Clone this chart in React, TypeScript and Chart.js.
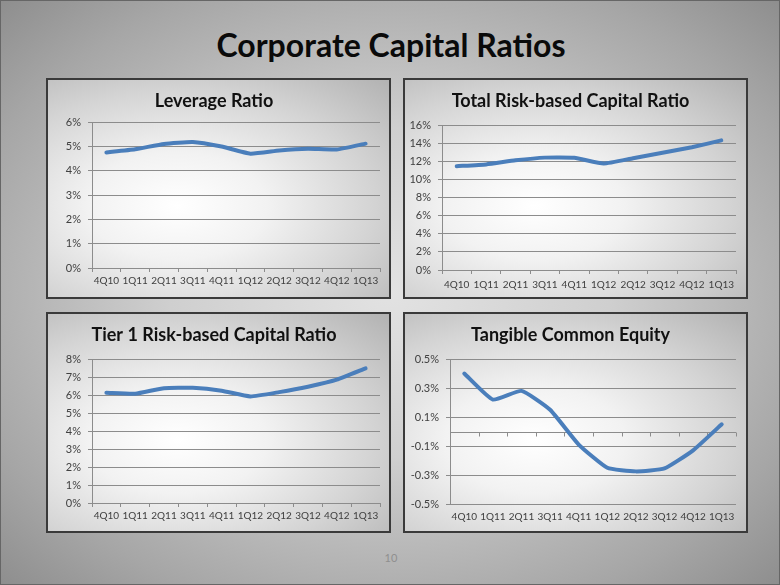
import React, { useEffect, useRef } from 'react';
import { Chart, registerables } from 'chart.js';

Chart.register(...registerables);

// ---------- data ----------
const categories = ['4Q10', '1Q11', '2Q11', '3Q11', '4Q11', '1Q12', '2Q12', '3Q12', '4Q12', '1Q13'];

const leverageValues = [4.75, 4.88, 5.1, 5.18, 4.99, 4.7, 4.83, 4.9, 4.87, 5.11];
const totalRiskValues = [11.46, 11.65, 12.1, 12.4, 12.38, 11.75, 12.34, 12.93, 13.55, 14.3];
const tier1Values = [6.12, 6.07, 6.38, 6.4, 6.24, 5.92, 6.16, 6.46, 6.85, 7.48];
const tangibleValues = [0.4, 0.22, 0.28, 0.15, -0.09, -0.25, -0.275, -0.255, -0.13, 0.05];

const leverageAxis = [0, 6, 1];
const totalRiskAxis = [0, 16, 2];
const tier1Axis = [0, 8, 1];
const tangibleAxis = [-0.5, 0.5, 0.2];

const titles = ['Leverage Ratio', 'Total Risk-based Capital Ratio', 'Tier 1 Risk-based Capital Ratio', 'Tangible Common Equity'];

const FONT = 'Lato, "Open Sans", sans-serif';
const LINE_COLOR = '#4a7ebb';
const GRID_COLOR = '#8c8c8c';

const zeroAxisPlugin = {
  id: 'zeroAxis',
  beforeDatasetsDraw(chart: any, _args: any, opts: any) {
    if (!opts || !opts.enabled) return;
    const { ctx, chartArea, scales } = chart;
    const y = Math.round(scales.y.getPixelForValue(0)) + 0.5;
    ctx.save();
    ctx.strokeStyle = GRID_COLOR;
    ctx.lineWidth = 1;
    ctx.beginPath();
    ctx.moveTo(chartArea.left, y);
    ctx.lineTo(chartArea.right, y);
    const n = categories.length;
    const w = (chartArea.right - chartArea.left) / n;
    for (let i = 0; i <= n; i++) {
      const x = Math.round(chartArea.left + i * w) + 0.5;
      ctx.moveTo(x, y);
      ctx.lineTo(x, y + 4);
    }
    ctx.stroke();
    ctx.restore();
  },
};

type PanelProps = {
  title: string;
  values: number[];
  axis: number[];
  decimals: number;
  yWidth: number;
  rightPad: number;
  plotTop: number;
  xHeight: number;
  zeroLine?: boolean;
  labelPad: number;
};

function Panel(props: PanelProps) {
  const ref = useRef<HTMLCanvasElement | null>(null);
  useEffect(() => {
    if (!ref.current) return;
    const titleSize = 18;
    const titleLine = 22;
    const titleTop = 10;
    const chart = new Chart(ref.current, {
      type: 'line',
      data: {
        labels: categories,
        datasets: [
          {
            data: props.values,
            borderColor: LINE_COLOR,
            borderWidth: 4,
            pointRadius: 0,
            tension: 0.15,
            fill: false,
            borderCapStyle: 'round',
            borderJoinStyle: 'round',
          },
        ],
      },
      options: {
        animation: false,
        responsive: false,
        maintainAspectRatio: false,
        layout: { padding: { left: 0, right: props.rightPad, top: 0, bottom: 0 } },
        plugins: {
          legend: { display: false },
          tooltip: { enabled: false },
          title: {
            display: true,
            text: props.title,
            color: '#111',
            font: { family: FONT, size: titleSize, weight: 'bold', lineHeight: titleLine / titleSize },
            padding: { top: titleTop, bottom: props.plotTop - titleTop - titleLine },
          },
          zeroAxis: { enabled: !!props.zeroLine },
        } as any,
        scales: {
          x: {
            type: 'category',
            offset: true,
            grid: props.zeroLine
              ? { display: false, drawTicks: false, drawOnChartArea: false }
              : { offset: true, drawOnChartArea: false, drawTicks: true, tickLength: 4, color: GRID_COLOR },
            border: { display: !props.zeroLine, color: GRID_COLOR },
            ticks: {
              color: '#404040',
              font: { family: FONT, size: 10 },
              padding: props.labelPad,
              maxRotation: 0,
              autoSkip: false,
            },
            afterFit: (s: any) => {
              s.height = props.xHeight;
            },
          },
          y: {
            min: props.axis[0],
            max: props.axis[1],
            ticks: {
              stepSize: props.axis[2],
              color: '#404040',
              font: { family: FONT, size: 11 },
              padding: 7,
              callback: (v: any) => Number(v).toFixed(props.decimals) + '%',
            },
            grid: { color: GRID_COLOR, tickLength: 4, lineWidth: 1 },
            border: { color: GRID_COLOR },
            afterFit: (s: any) => {
              s.width = props.yWidth;
            },
          },
        },
      } as any,
      plugins: [zeroAxisPlugin],
    });
    return () => chart.destroy();
  }, []);
  return <canvas ref={ref} width={341} height={217} style={{ display: 'block', width: 341, height: 217 }} />;
}

const panelStyle = (left: number, top: number): React.CSSProperties => ({
  position: 'absolute',
  left,
  top,
  width: 341,
  height: 217,
  border: '2px solid #3a3a3a',
  background: 'radial-gradient(ellipse farthest-corner at 38% 58%, #ffffff 0%, #f2f2f2 30%, #d4d4d4 65%, #b2b2b2 100%)',
});

export default function App() {
  return (
    <div
      style={{
        position: 'absolute',
        left: 0,
        top: 0,
        width: 780,
        height: 585,
        overflow: 'hidden',
        boxSizing: 'border-box',
        border: '1px solid #666',
        background: 'radial-gradient(ellipse farthest-corner at 50% 50%, #e2e2e2 0%, #cfcfcf 40%, #a6a6a6 80%, #8e8e8e 100%)',
        fontFamily: FONT,
      }}
    >
      <div
        style={{
          position: 'absolute',
          left: 0,
          top: 24,
          width: 780,
          textAlign: 'center',
          fontSize: 32,
          lineHeight: '40px',
          fontWeight: 'bold',
          color: '#0a0a0a',
        }}
      >
        Corporate Capital Ratios
      </div>
      <div style={panelStyle(45, 77)}>
        <Panel title={titles[0]} values={leverageValues} axis={leverageAxis} decimals={0} yWidth={44} rightPad={9} plotTop={42} xHeight={29} labelPad={3} />
      </div>
      <div style={panelStyle(402, 77)}>
        <Panel title={titles[1]} values={totalRiskValues} axis={totalRiskAxis} decimals={0} yWidth={37} rightPad={10} plotTop={45} xHeight={27} labelPad={5} />
      </div>
      <div style={panelStyle(45, 311)}>
        <Panel title={titles[2]} values={tier1Values} axis={tier1Axis} decimals={0} yWidth={44} rightPad={9} plotTop={45} xHeight={28} labelPad={3} />
      </div>
      <div style={panelStyle(402, 311)}>
        <Panel title={titles[3]} values={tangibleValues} axis={tangibleAxis} decimals={1} yWidth={45} rightPad={10} plotTop={45} xHeight={27} labelPad={7} zeroLine />
      </div>
      <div
        style={{
          position: 'absolute',
          left: 0,
          top: 549,
          width: 780,
          textAlign: 'center',
          fontSize: 11,
          lineHeight: '16px',
          color: '#8f8f8f',
        }}
      >
        10
      </div>
    </div>
  );
}
